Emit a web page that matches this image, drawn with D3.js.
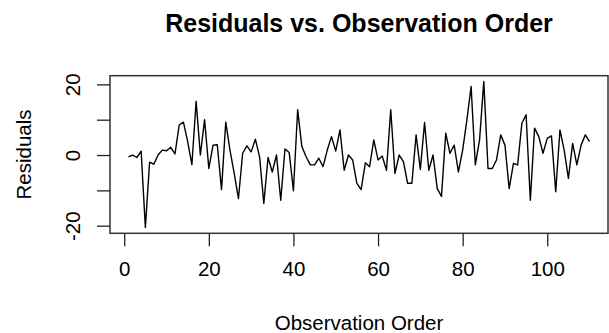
<!DOCTYPE html>
<html>
<head>
<meta charset="utf-8">
<script src="https://cdn.jsdelivr.net/npm/d3@7"></script>
<style>
  body { margin: 0; background: #fff; }
  svg text { font-family: "Liberation Sans", Arial, sans-serif; fill: #000; }
</style>
</head>
<body>
<script>
// residuals, in observation order 1..110
var residuals = [
  -0.5, 0, -0.7, 1.1, -20.5, -2, -2.6, 0, 1.4, 1.2,
  2.2, 0.3, 8.5, 9.3, 3.8, -2.7, 15.2, 0, 10, -3.8,
  2.8, 2.9, -9.8, 9.3, 1.4, -5.2, -12.3, 0.5, 2.6, 0.9,
  4.5, -0.5, -13.7, -0.7, -4.8, 0, -12.8, 1.7, 0.7, -10.1,
  12.8, 2.4, -0.5, -2.8, -2.8, -0.9, -3.3, 1.4, 5.2, 1.1,
  7.1, -4.3, 0, -1.4, -8.0, -9.8, -2.2, -3.3, 4.3, -1.4,
  -0.3, -4.3, 12.8, -5.2, 0, -1.9, -8.0, -8.0, 5.7, -4.1,
  9.2, -4.3, 0, -9.5, -11.7, 6.2, 0.5, 2.8, -4.8, 1.4,
  9.9, 19.4, -2.8, 4.3, 20.8, -3.8, -3.8, -1.4, 5.7, 2.8,
  -9.5, -2.4, -2.8, 9.0, 11.4, -12.8, 7.6, 5.2, 0.5, 4.7,
  5.4, -10.4, 7.1, 1.4, -6.6, 3.3, -2.8, 2.8, 5.7, 3.8
]
var xTicks = [0, 20, 40, 60, 80, 100]
var yTicks = [-20, -10, 0, 10, 20]
var yLabelled = [-20, 0, 20]

var width = 609
var height = 333
var plot = {left: 110, right: 608, top: 75.7, bottom: 233.3}

var data = residuals.map(function(v, i){ return {x: i + 1, y: v} })

// R style 4% padding on both axes
function padded(ext){
  var p = (ext[1] - ext[0]) * 0.04
  return [ext[0] - p, ext[1] + p]
}

var x = d3.scaleLinear()
  .domain(padded(d3.extent(data, function(d){ return d.x })))
  .range([plot.left, plot.right])
var y = d3.scaleLinear()
  .domain(padded(d3.extent(data, function(d){ return d.y })))
  .range([plot.bottom, plot.top])

var svg = d3.select("body").append("svg")
  .attr("width", width)
  .attr("height", height)

svg.append("text")
  .attr("x", (plot.left + plot.right) / 2)
  .attr("y", 32)
  .attr("text-anchor", "middle")
  .style("font-size", "25px")
  .style("font-weight", "bold")
  .text("Residuals vs. Observation Order")

// x axis
var gx = svg.append("g")
  .attr("transform", "translate(0," + plot.bottom + ")")
  .call(d3.axisBottom(x).tickValues(xTicks).tickSize(13).tickPadding(15))
gx.select(".domain").remove()
gx.selectAll("line").attr("stroke", "#222").attr("stroke-width", 1.3)
gx.selectAll("text").style("font-size", "20.5px").attr("fill", "#000")

// y axis
var gy = svg.append("g")
  .attr("transform", "translate(" + plot.left + ",0)")
  .call(d3.axisLeft(y).tickValues(yTicks).tickSize(13)
    .tickFormat(function(d){ return yLabelled.indexOf(d) >= 0 ? d : "" }))
gy.select(".domain").remove()
gy.selectAll("line").attr("stroke", "#222").attr("stroke-width", 1.3)
gy.selectAll("text")
  .style("font-size", "20.5px")
  .attr("fill", "#000")
  .attr("x", null).attr("dy", null)
  .attr("text-anchor", "middle")
  .attr("transform", "translate(-30,0) rotate(-90)")

// plot box
svg.append("rect")
  .attr("x", plot.left)
  .attr("y", plot.top)
  .attr("width", plot.right - plot.left)
  .attr("height", plot.bottom - plot.top)
  .attr("fill", "none")
  .attr("stroke", "#333")
  .attr("stroke-width", 1.5)

var line = d3.line()
  .x(function(d){ return x(d.x) })
  .y(function(d){ return y(d.y) })

svg.append("path")
  .datum(data)
  .attr("d", line)
  .attr("fill", "none")
  .attr("stroke", "#000")
  .attr("stroke-width", 1.4)
  .attr("stroke-linejoin", "round")

// axis titles
svg.append("text")
  .attr("x", (plot.left + plot.right) / 2)
  .attr("y", 330)
  .attr("text-anchor", "middle")
  .style("font-size", "20.5px")
  .text("Observation Order")

svg.append("text")
  .attr("transform", "translate(31," + (plot.top + plot.bottom) / 2 + ") rotate(-90)")
  .attr("text-anchor", "middle")
  .style("font-size", "20.5px")
  .text("Residuals")
</script>
</body>
</html>
